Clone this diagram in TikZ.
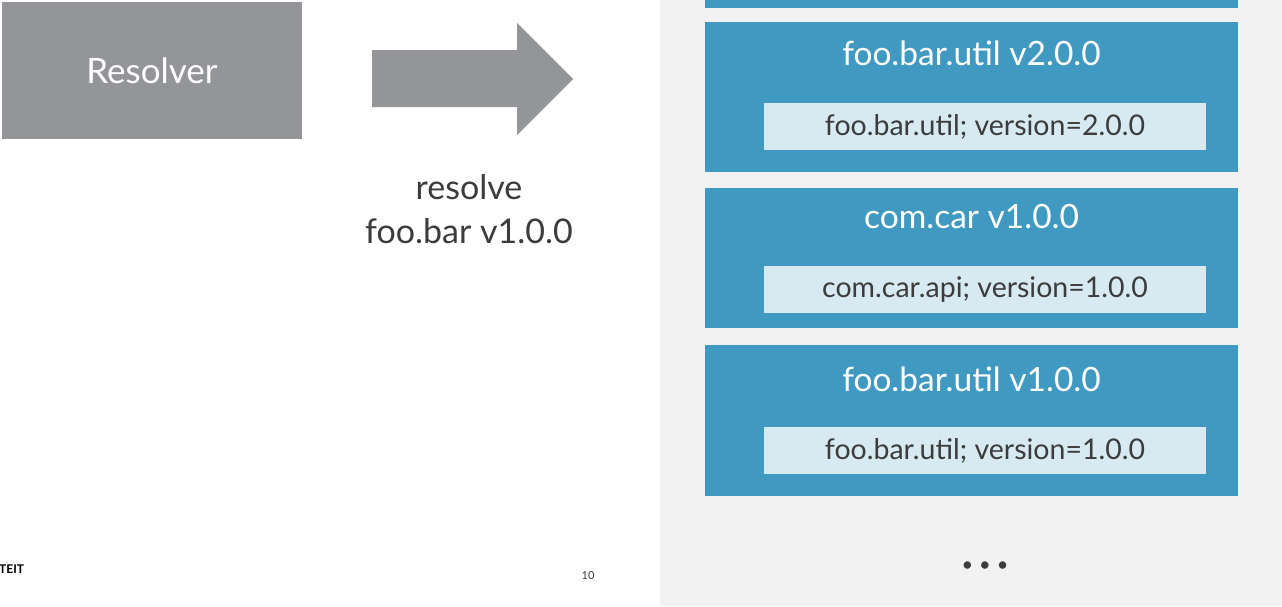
\documentclass[tikz,border=0pt]{standalone}
\usepackage{fontspec}
\setmainfont{Lato}
\definecolor{panelgray}{HTML}{F2F2F2}
\definecolor{resgray}{HTML}{939598}
\definecolor{bundleblue}{HTML}{4099C0}
\definecolor{capblue}{HTML}{D7EAF2}
\definecolor{txtdark}{HTML}{3C3C3C}
\tikzset{
  bundle/.style={fill=bundleblue, draw=none, inner sep=0pt},
  capbox/.style={fill=capblue, draw=none, inner sep=0pt, text=txtdark, font=\fontsize{28.5}{32}\selectfont},
  btitle/.style={text=white, inner sep=0pt, font=\fontsize{33.5}{38}\selectfont},
  bigtext/.style={text=txtdark, inner sep=0pt, font=\fontsize{34}{44}\selectfont, align=center},
}
\begin{document}
\begin{tikzpicture}[x=1pt,y=-1pt]
\useasboundingbox (0,0) rectangle (1282,606);
\fill[white] (0,0) rectangle (1282,606);
\fill[panelgray] (660,0) rectangle (1282,606);
% resolver
\node[fill=resgray, minimum width=300pt, minimum height=137pt, inner sep=0pt, text=white, font=\fontsize{35}{40}\selectfont] (resolver) at (152,70.5) {Resolver};
% arrow
\fill[resgray] (372,50) -- (517,50) -- (517,23) -- (573,79) -- (517,135) -- (517,107) -- (372,107) -- cycle;
\node[bigtext] (label) at (469,209) {resolve\\foo.bar v1.0.0};
% bundles
\node[bundle, minimum width=533pt, minimum height=8pt] (b0) at (971.5,4) {};
\node[bundle, minimum width=533pt, minimum height=150pt] (b1) at (971.5,97) {};
\node[btitle] (t1) at (971.5,53) {foo.bar.util v2.0.0};
\node[capbox, minimum width=442pt, minimum height=47pt] (c1) at (985,126.5) {foo.bar.util; version=2.0.0};
\node[bundle, minimum width=533pt, minimum height=140pt] (b2) at (971.5,258) {};
\node[btitle] (t2) at (971.5,216) {com.car v1.0.0};
\node[capbox, minimum width=442pt, minimum height=47pt] (c2) at (985,289.5) {com.car.api; version=1.0.0};
\node[bundle, minimum width=533pt, minimum height=151pt] (b3) at (971.5,420.5) {};
\node[btitle] (t3) at (971.5,379) {foo.bar.util v1.0.0};
\node[capbox, minimum width=442pt, minimum height=47pt] (c3) at (985,450.5) {foo.bar.util; version=1.0.0};
% dots
\node[text=txtdark, inner sep=0pt, font=\fontsize{20}{24}\selectfont] (dots) at (985,567) {•\hspace{6pt}•\hspace{6pt}•};
% footer
\node[anchor=west, inner sep=0pt, text=black, font=\bfseries\fontsize{12}{14}\selectfont] (footer) at (-1,569) {TEIT};
\node[inner sep=0pt, text=txtdark, font=\fontsize{11}{13}\selectfont] (page) at (588,576) {10};
\end{tikzpicture}
\end{document}
